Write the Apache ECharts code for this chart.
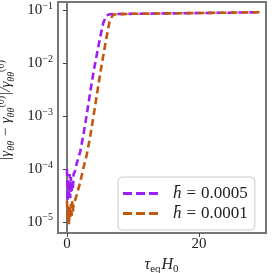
<!DOCTYPE html>
<html>
<head>
<meta charset="utf-8">
<script src="https://cdn.jsdelivr.net/npm/echarts@6/dist/echarts.min.js"></script>
<style>
html,body{margin:0;padding:0;background:#fff;}
#c{width:272px;height:273px;}
</style>
</head>
<body>
<div id="c"></div>
<script>
// h = 0.0005 (purple)
var xPurple = [0, 0.1, 0.2, 0.3, 0.4, 0.5, 0.6, 0.7, 0.8, 0.9, 1.0, 1.2, 1.5, 2.0, 2.5, 3.0, 3.5, 4.0, 4.5, 5.0, 5.5, 6.0, 6.5, 7.0, 8.0, 10, 15, 20, 25, 29.2];
var yPurple = [1.0e-4, 2.5e-5, 6e-5, 3e-5, 8e-5, 2.8e-5, 7e-5, 3.5e-5, 6e-5, 4e-5, 8e-5, 9e-5, 1.3e-4, 2.1e-4, 4.5e-4, 1.07e-3, 2.7e-3, 6.5e-3, 1.4e-2, 2.95e-2, 5.7e-2, 7.9e-2, 8.3e-2, 8.35e-2, 8.4e-2, 8.45e-2, 8.6e-2, 8.75e-2, 8.9e-2, 9.05e-2];
// h = 0.0001 (orange)
var xOrange = [0, 0.1, 0.2, 0.3, 0.4, 0.5, 0.6, 0.7, 0.8, 0.9, 1.0, 1.2, 1.5, 2.0, 2.5, 3.0, 3.5, 4.0, 4.5, 5.0, 5.5, 6.0, 6.5, 7.0, 7.5, 8.0, 10, 15, 20, 25, 29.2];
var yOrange = [2.5e-5, 1.1e-5, 2e-5, 9e-6, 1.8e-5, 1.2e-5, 2.2e-5, 1.3e-5, 2.6e-5, 1.5e-5, 2.2e-5, 2.5e-5, 3.3e-5, 5.6e-5, 1.05e-4, 1.86e-4, 4e-4, 9.5e-4, 2.4e-3, 5.9e-3, 1.38e-2, 3.1e-2, 6.5e-2, 8.1e-2, 8.3e-2, 8.35e-2, 8.45e-2, 8.6e-2, 8.75e-2, 8.9e-2, 9.05e-2];
var seriesNames = ['h\u0304 = 0.0005', 'h\u0304 = 0.0001'];
var colors = ['#9d1ff5', '#c2570f'];

function pairs(xs, ys){ return xs.map(function(x,i){ return [x, ys[i]]; }); }

var serif = '"Liberation Serif", "DejaVu Serif", serif';
var dashIcon = 'path://M0,0h9v3h-9z M13,0h9v3h-9z M26,0h9v3h-9z';
var chart = echarts.init(document.getElementById('c'), null, {renderer:'canvas'});
chart.setOption({
  animation:false,
  backgroundColor:'#fff',
  grid:{left:58, right:6, top:2, bottom:40, containLabel:false, outerBoundsMode:'none',
        show:true, borderColor:'#777', borderWidth:2, backgroundColor:'transparent'},
  xAxis:{
    type:'value', min:-1.36, max:30.15, splitNumber:2,
    axisLine:{show:true, lineStyle:{color:'#777', width:2}},
    axisTick:{show:true, length:4, lineStyle:{color:'#444'}},
    splitLine:{show:false},
    axisLabel:{showMinLabel:false, showMaxLabel:false, margin:4, color:'#222', fontFamily:serif, fontSize:15},
    name:'{i|\u03c4}{s|eq}{i|H}{s|0}',
    nameLocation:'middle', nameGap:22,
    nameTextStyle:{rich:{
      i:{fontFamily:serif, fontStyle:'italic', fontSize:16, color:'#222', lineHeight:20, verticalAlign:'middle'},
      s:{fontFamily:serif, fontSize:11, color:'#222', lineHeight:10, verticalAlign:'bottom', padding:[0,1,0,0]}
    }}
  },
  yAxis:{
    type:'log', logBase:10, min:Math.pow(10,-5.21), max:Math.pow(10,-0.85),
    axisLine:{show:true, lineStyle:{color:'#777', width:2}},
    axisTick:{show:true, length:4, lineStyle:{color:'#444'}},
    splitLine:{show:false},
    axisLabel:{showMinLabel:false, showMaxLabel:false, margin:5,
      formatter:function(v){
        var e = Math.log10(v);
        if (Math.abs(e - Math.round(e)) > 1e-6) return '';
        var r = Math.round(e);
        return '{a|10}{b|' + (r<0 ? '\u2212' : '') + Math.abs(r) + '}';
      },
      rich:{
        a:{fontFamily:serif, fontSize:15, color:'#222', lineHeight:18},
        b:{fontFamily:serif, fontSize:10, color:'#222', lineHeight:10, verticalAlign:'top'}
      }
    },
    name:'{t||\u03b3}{s|\u03b8\u03b8}{t| \u2212 \u03b3}{s|\u03b8\u03b8}{p|(0)}{t||/\u03b3}{s|\u03b8\u03b8}{p|(0)}',
    nameLocation:'middle', nameGap:33, nameRotate:90,
    nameTextStyle:{padding:[0,0,0,14], rich:{
      t:{fontFamily:serif, fontSize:15, fontStyle:'italic', color:'#222', lineHeight:20},
      s:{fontFamily:serif, fontSize:10, fontStyle:'italic', color:'#222', lineHeight:10, verticalAlign:'bottom'},
      p:{fontFamily:serif, fontSize:10, color:'#222', lineHeight:10, verticalAlign:'top'}
    }}
  },
  legend:{
    show:true, orient:'vertical', left:118, top:177,
    padding:[8,7,8,5], itemGap:3, itemWidth:37, itemHeight:3,
    backgroundColor:'#fff', borderColor:'#ccc', borderWidth:1, borderRadius:4,
    icon:dashIcon,
    formatter:function(name){
      var parts = name.split(' = ');
      return '{i|h\u0304}{e|=}{n|' + parts[1] + '}';
    },
    textStyle:{fontFamily:serif, fontSize:17, color:'#222', padding:[0,0,0,9],
      rich:{
        i:{fontFamily:serif, fontSize:17, fontStyle:'italic', color:'#222'},
        e:{fontFamily:serif, fontSize:17, color:'#222', padding:[0,5,0,5]},
        n:{fontFamily:serif, fontSize:17, color:'#222'}
      }},
    data:seriesNames
  },
  series:[
    {name:seriesNames[0], type:'line', data:pairs(xPurple,yPurple), showSymbol:false, symbol:'none',
     lineStyle:{color:colors[0], width:2.6, type:[7,4]}, itemStyle:{color:colors[0]}},
    {name:seriesNames[1], type:'line', data:pairs(xOrange,yOrange), showSymbol:false, symbol:'none',
     lineStyle:{color:colors[1], width:2.6, type:[7,4]}, itemStyle:{color:colors[1]}}
  ]
});
</script>
</body>
</html>
